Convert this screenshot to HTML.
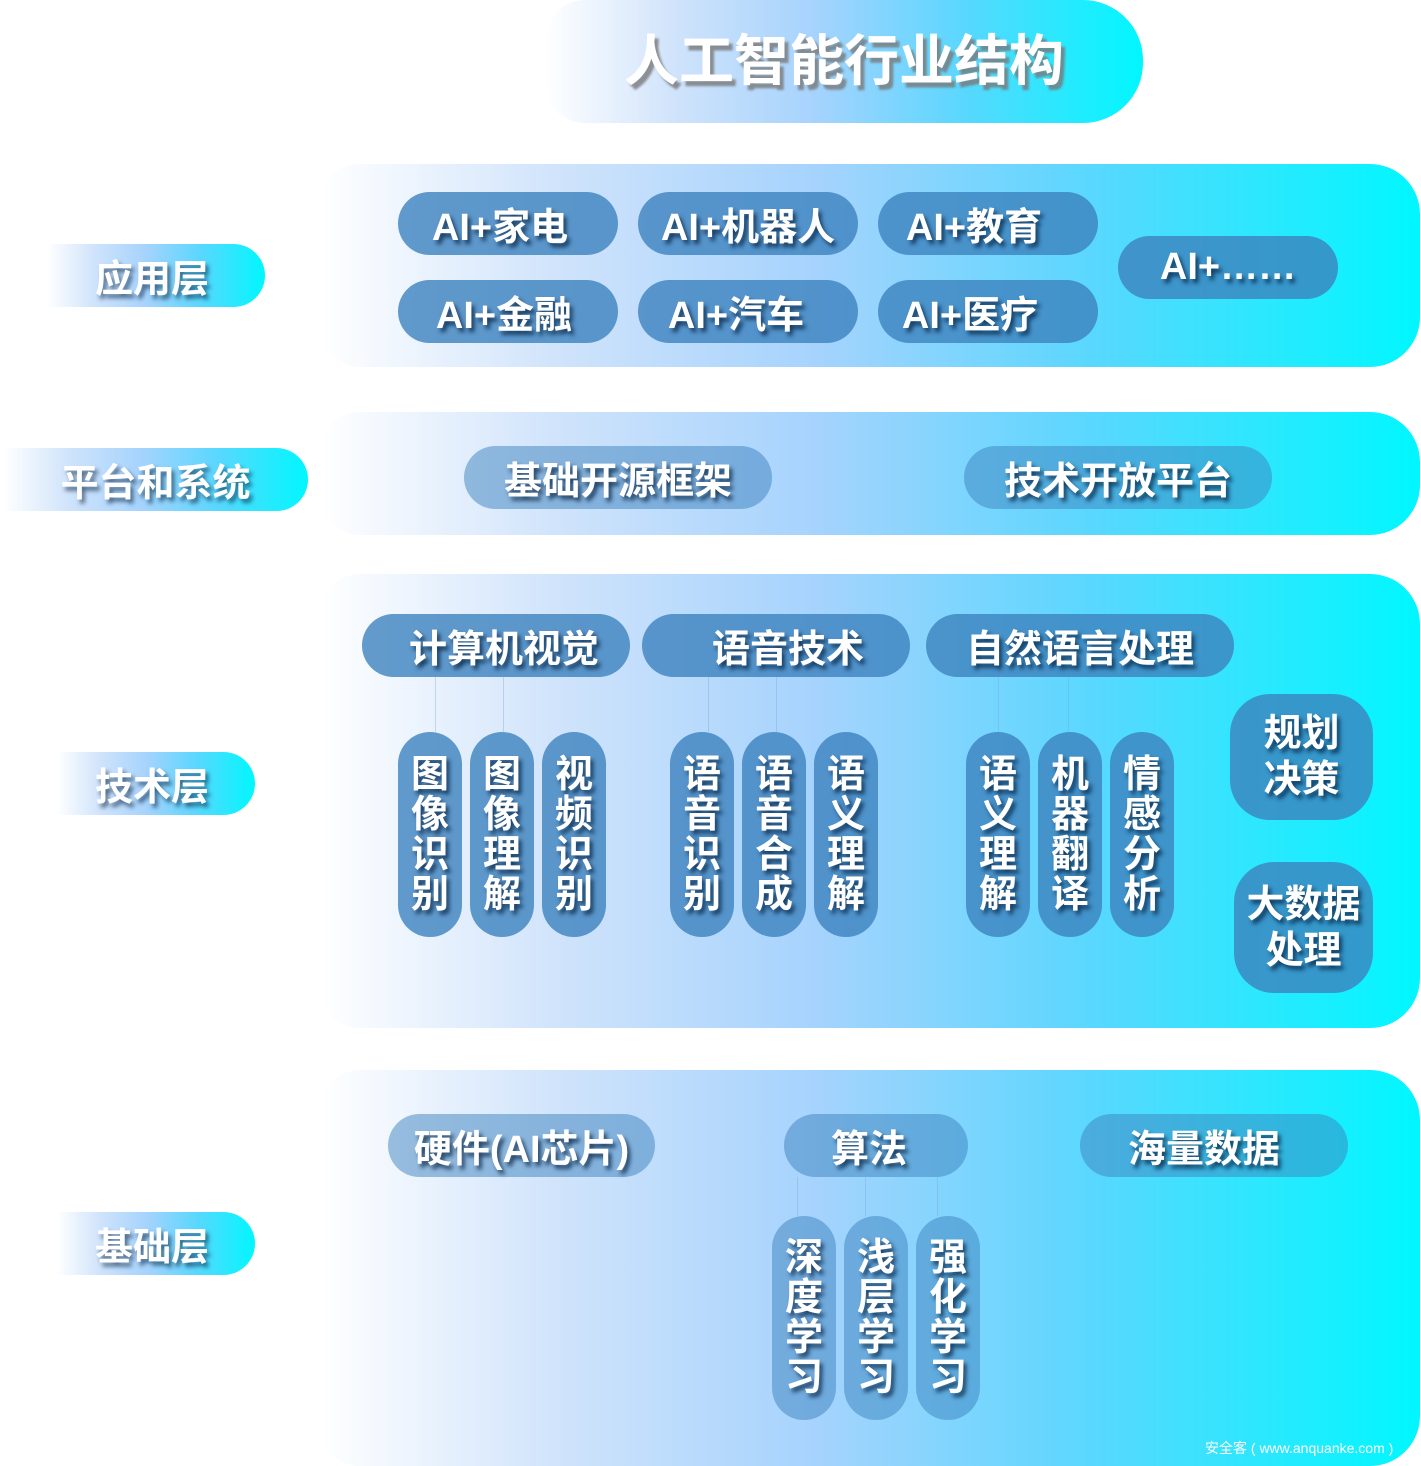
<!DOCTYPE html>
<html><head><meta charset="utf-8"><style>
*{margin:0;padding:0;box-sizing:border-box}
body{width:1421px;height:1466px;background:#fff;position:relative;overflow:hidden;font-family:"Liberation Sans","Noto Sans CJK SC",sans-serif;font-weight:bold}
.g{position:absolute;background:linear-gradient(90deg,rgba(255,255,255,1) 0%,#cfe3fb 22%,#a6d3fd 45%,#5ad7fe 70%,#00f7ff 100%)}
.p{position:absolute;background:rgba(60,130,190,.8);border-radius:32px;color:#fff;display:flex;align-items:center;justify-content:center;text-shadow:3px 4px 4px rgba(0,30,60,.75);white-space:nowrap}
.l{background:rgba(60,130,190,.5)}
.v{width:64px;border-radius:32px;font-size:38px;line-height:40px;text-align:center;flex-direction:column;white-space:normal;padding:0 13px}
.ln{position:absolute;width:1px;background:rgba(120,160,200,.35)}
.lab{position:absolute;color:#fff;display:flex;align-items:center;justify-content:center;font-size:38px;border-radius:0 32px 32px 0;text-shadow:3px 4px 4px rgba(0,30,60,.6)}
</style></head><body>
<div class="g" style="left:545px;top:0;width:598px;height:123px;border-radius:40px 60px 60px 40px"></div>
<div style="position:absolute;left:545px;top:0;width:598px;height:112px;display:flex;align-items:center;justify-content:center;color:#fff;font-size:55px;text-shadow:4px 5px 2px rgba(120,120,120,.8)">人工智能行业结构</div>

<div class="g" style="left:320px;top:164px;width:1100px;height:203px;border-radius:40px 50px 50px 40px"></div>
<div class="g" style="left:320px;top:412px;width:1100px;height:123px;border-radius:40px 50px 50px 40px"></div>
<div class="g" style="left:320px;top:574px;width:1100px;height:454px;border-radius:40px 50px 50px 40px"></div>
<div class="g" style="left:320px;top:1070px;width:1100px;height:396px;border-radius:40px 50px 50px 40px"></div>

<div class="lab g" style="left:47px;top:244px;width:218px;height:63px;padding-right:8px">应用层</div>
<div class="lab g" style="left:3px;top:448px;width:305px;height:63px">平台和系统</div>
<div class="lab g" style="left:57px;top:752px;width:198px;height:63px;padding-right:8px">技术层</div>
<div class="lab g" style="left:57px;top:1212px;width:198px;height:63px;padding-right:8px">基础层</div>

<div class="p" style="left:398px;top:192px;width:220px;height:63px;font-size:38px;padding-right:16px">AI+家电</div>
<div class="p" style="left:638px;top:192px;width:220px;height:63px;font-size:38px">AI+机器人</div>
<div class="p" style="left:878px;top:192px;width:220px;height:63px;font-size:38px;padding-right:28px">AI+教育</div>
<div class="p" style="left:398px;top:280px;width:220px;height:63px;font-size:38px;padding-right:8px">AI+金融</div>
<div class="p" style="left:638px;top:280px;width:220px;height:63px;font-size:38px;padding-right:24px">AI+汽车</div>
<div class="p" style="left:878px;top:280px;width:220px;height:63px;font-size:38px;padding-right:36px">AI+医疗</div>
<div class="p" style="left:1118px;top:236px;width:220px;height:63px;font-size:38px">AI+……</div>

<div class="p l" style="left:464px;top:446px;width:308px;height:63px;font-size:38px">基础开源框架</div>
<div class="p l" style="left:964px;top:446px;width:308px;height:63px;font-size:38px">技术开放平台</div>

<div class="ln" style="left:435px;top:677px;height:55px"></div>
<div class="ln" style="left:503px;top:677px;height:55px"></div>
<div class="ln" style="left:708px;top:677px;height:55px"></div>
<div class="ln" style="left:776px;top:677px;height:55px"></div>
<div class="ln" style="left:998px;top:677px;height:55px"></div>
<div class="ln" style="left:1068px;top:677px;height:55px"></div>
<div class="p" style="left:362px;top:614px;width:268px;height:63px;font-size:38px;padding-left:16px">计算机视觉</div>
<div class="p" style="left:642px;top:614px;width:268px;height:63px;font-size:38px;padding-left:24px">语音技术</div>
<div class="p" style="left:926px;top:614px;width:308px;height:63px;font-size:38px">自然语言处理</div>
<div class="p v" style="left:398px;top:732px;height:205px">图像识别</div>
<div class="p v" style="left:470px;top:732px;height:205px">图像理解</div>
<div class="p v" style="left:542px;top:732px;height:205px">视频识别</div>
<div class="p v" style="left:670px;top:732px;height:205px">语音识别</div>
<div class="p v" style="left:742px;top:732px;height:205px">语音合成</div>
<div class="p v" style="left:814px;top:732px;height:205px">语义理解</div>
<div class="p v" style="left:966px;top:732px;height:205px">语义理解</div>
<div class="p v" style="left:1038px;top:732px;height:205px">机器翻译</div>
<div class="p v" style="left:1110px;top:732px;height:205px">情感分析</div>
<div class="p" style="left:1230px;top:694px;width:143px;height:126px;border-radius:40px;font-size:38px;white-space:normal;text-align:center;line-height:46px;padding:0 28px">规划决策</div>
<div class="p" style="left:1234px;top:862px;width:139px;height:131px;border-radius:40px;font-size:38px;white-space:normal;text-align:center;line-height:46px;padding:0 2px">大数据处理</div>

<div class="ln" style="left:797px;top:1177px;height:39px"></div>
<div class="ln" style="left:865px;top:1177px;height:39px"></div>
<div class="ln" style="left:937px;top:1177px;height:39px"></div>
<div class="p l" style="left:388px;top:1114px;width:267px;height:63px;font-size:38px">硬件(AI芯片)</div>
<div class="p l" style="left:784px;top:1114px;width:184px;height:63px;font-size:38px;padding-right:14px">算法</div>
<div class="p l" style="left:1080px;top:1114px;width:268px;height:63px;font-size:38px;padding-right:20px">海量数据</div>
<div class="p v l" style="left:772px;top:1216px;height:204px">深度学习</div>
<div class="p v l" style="left:844px;top:1216px;height:204px">浅层学习</div>
<div class="p v l" style="left:916px;top:1216px;height:204px">强化学习</div>

<div style="position:absolute;left:1205px;top:1438px;color:#fff;font-size:14px;font-weight:normal">安全客 ( www.anquanke.com )</div>
</body></html>
